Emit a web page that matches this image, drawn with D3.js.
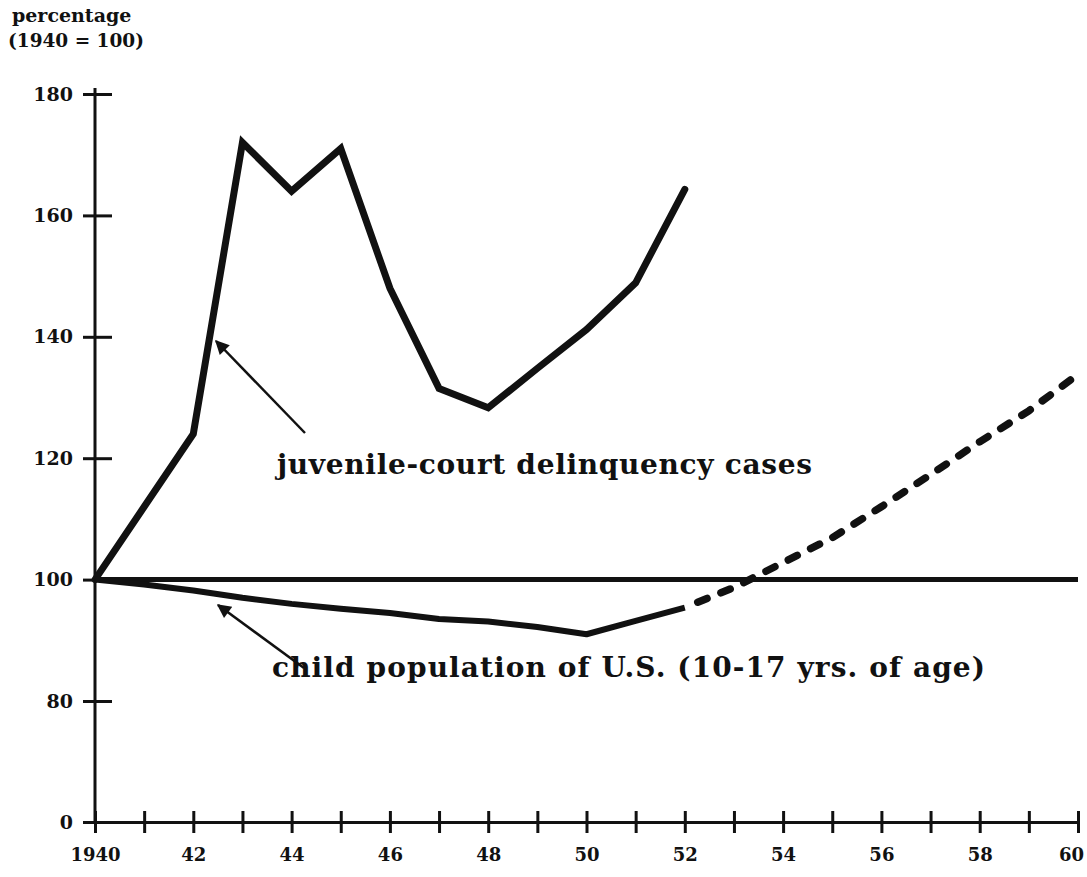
<!DOCTYPE html>
<html>
<head>
<meta charset="utf-8">
<script src="https://cdn.jsdelivr.net/npm/d3@7"></script>
<style>
  body { margin: 0; background: #fff; }
  text { font-family: "DejaVu Serif", "Liberation Serif", serif; font-weight: bold; fill: #111; }
</style>
</head>
<body>
<div id="chart"></div>
<script>
// data (index, 1940 = 100)
var years = [1940, 1941, 1942, 1943, 1944, 1945, 1946, 1947, 1948, 1949, 1950, 1951, 1952];
var delinquency = [100, 112, 124, 172, 164, 171, 148, 131.5, 128.3, 134.8, 141.2, 148.9, 164.3];
var childPop = [100, 99.2, 98.2, 97, 96, 95.2, 94.5, 93.5, 93.1, 92.2, 91, 93.2, 95.4];

var projYears = [1952, 1953, 1954, 1955, 1956, 1957, 1958, 1959, 1960];
var childProj = [95.4, 98.7, 102.8, 106.9, 112, 117.3, 122.7, 127.8, 133.8];

var baseYears = [1940, 1960];
var baseLine = [100, 100];

var yTicks = [0, 80, 100, 120, 140, 160, 180];
var xTicks = d3.range(1940, 1961);
var xLabelYears = d3.range(1940, 1961, 2);

var svgWidth = 1087;
var svgHeight = 877;

var svg = d3.select("#chart")
    .append("svg")
    .attr("width", svgWidth)
    .attr("height", svgHeight);

var xScale = d3.scaleLinear()
    .domain([1940, 1960])
    .range([95, 1078]);

// broken scale: 0 sits one step below 80
var yScale = d3.scaleLinear()
    .domain([0, 80, 180])
    .range([822, 701, 94]);

// y axis
var yAxis = svg.append("g")
    .attr("transform", `translate(${xScale(1940)},0)`)
    .call(d3.axisLeft(yScale).tickValues(yTicks).tickSize(0).tickPadding(22));

yAxis.select(".domain")
    .attr("d", `M0,${yScale(0)}V${yScale(180) - 6}`)
    .attr("stroke", "#111")
    .attr("stroke-width", 3);

yAxis.selectAll(".tick line")
    .attr("x1", -12)
    .attr("x2", 17)
    .attr("stroke", "#111")
    .attr("stroke-width", 3);

yAxis.selectAll(".tick text")
    .style("font-size", "19px")
    .attr("fill", "#111");

// x axis
var xAxis = svg.append("g")
    .attr("transform", `translate(0,${yScale(0)})`)
    .call(d3.axisBottom(xScale).tickValues(xTicks).tickSize(0).tickPadding(26)
        .tickFormat(function(d) {
            if (xLabelYears.indexOf(d) < 0) return "";
            return d == 1940 ? "1940" : String(d).slice(2);
        }));

xAxis.select(".domain")
    .attr("stroke", "#111")
    .attr("stroke-width", 3);

xAxis.selectAll(".tick line")
    .attr("y1", -11)
    .attr("y2", 11)
    .attr("stroke", "#111")
    .attr("stroke-width", 3);

xAxis.selectAll(".tick text")
    .style("font-size", "18px")
    .attr("fill", "#111")
    .attr("dx", d => d == 1960 ? -7 : 0);

// y title
svg.append("text")
    .attr("x", 12)
    .attr("y", 22)
    .style("font-size", "19px")
    .text("percentage");

svg.append("text")
    .attr("x", 8)
    .attr("y", 47)
    .style("font-size", "18.5px")
    .text("(1940 = 100)");

var line = d3.line()
    .x(d => xScale(d[0]))
    .y(d => yScale(d[1]));

// 1940 = 100 base line
svg.append("path")
    .datum(d3.zip(baseYears, baseLine))
    .attr("d", line)
    .attr("fill", "none")
    .attr("stroke", "#111")
    .attr("stroke-width", 5);

// delinquency cases
svg.append("path")
    .datum(d3.zip(years, delinquency))
    .attr("d", line)
    .attr("fill", "none")
    .attr("stroke", "#111")
    .attr("stroke-width", 7)
    .attr("stroke-linejoin", "miter")
    .attr("stroke-linecap", "round");

// child population
svg.append("path")
    .datum(d3.zip(years, childPop))
    .attr("d", line)
    .attr("fill", "none")
    .attr("stroke", "#111")
    .attr("stroke-width", 6)
    .attr("stroke-linejoin", "round");

// projection, dashed
svg.append("path")
    .datum(d3.zip(projYears, childProj))
    .attr("d", line)
    .attr("fill", "none")
    .attr("stroke", "#111")
    .attr("stroke-width", 7.5)
    .attr("stroke-dasharray", "10,15")
    .attr("stroke-dashoffset", -14)
    .attr("stroke-linecap", "round");

// arrows
svg.append("defs").append("marker")
    .attr("id", "head")
    .attr("viewBox", "0 0 10 10")
    .attr("refX", 9)
    .attr("refY", 5)
    .attr("markerWidth", 17)
    .attr("markerHeight", 14)
    .attr("markerUnits", "userSpaceOnUse")
    .attr("orient", "auto")
    .append("path")
    .attr("d", "M0,0L10,5L0,10Z")
    .attr("fill", "#111");

var arrows = [
    {x1: 305, y1: 433, x2: 216, y2: 341},
    {x1: 304, y1: 668, x2: 218, y2: 605}
];

svg.selectAll("line.arrow")
    .data(arrows)
    .enter()
    .append("line")
    .attr("class", "arrow")
    .attr("x1", d => d.x1)
    .attr("y1", d => d.y1)
    .attr("x2", d => d.x2)
    .attr("y2", d => d.y2)
    .attr("stroke", "#111")
    .attr("stroke-width", 2.5)
    .attr("marker-end", "url(#head)");

// labels
svg.append("text")
    .attr("x", 277)
    .attr("y", 474)
    .attr("textLength", 535)
    .attr("lengthAdjust", "spacing")
    .style("font-size", "28px")
    .text("juvenile-court delinquency cases");

svg.append("text")
    .attr("x", 272)
    .attr("y", 677)
    .attr("textLength", 713)
    .attr("lengthAdjust", "spacing")
    .style("font-size", "28px")
    .text("child population of U.S. (10-17 yrs. of age)");
</script>
</body>
</html>
